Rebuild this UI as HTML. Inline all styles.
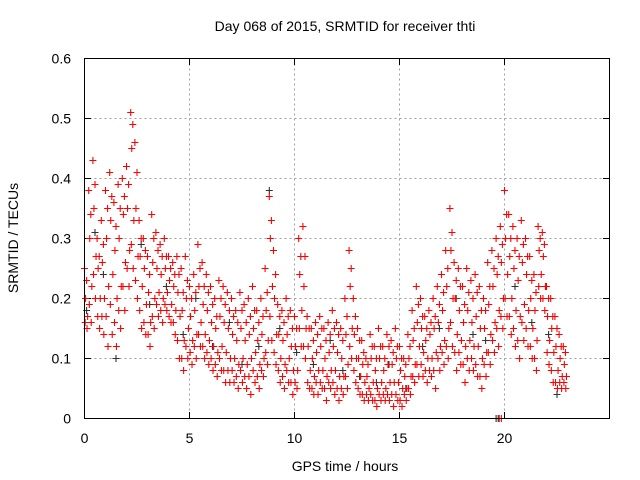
<!DOCTYPE html>
<html><head><meta charset="utf-8"><style>
body{margin:0;background:#fff;}
svg{display:block;font-family:"Liberation Sans",sans-serif;}
</style></head><body>
<svg id="chart" width="640" height="480">
<text x="345" y="31" font-size="14" text-anchor="middle">Day 068 of 2015, SRMTID for receiver thti</text>
<text x="345" y="471" font-size="14" text-anchor="middle">GPS time / hours</text>
<text transform="translate(18,238) rotate(-90)" font-size="14" text-anchor="middle">SRMTID / TECUs</text>
<g id="grid"></g>
<g id="ticks"></g>
<g id="black"></g>
<g id="red"></g>
<rect x="84.5" y="58.5" width="525" height="360" fill="none" stroke="#000"/>
</svg>
<script>
const xTicks=[0,5,10,15,20];
const yTicks=[0,0.1,0.2,0.3,0.4,0.5,0.6];
const yLabels=["0","0.1","0.2","0.3","0.4","0.5","0.6"];
const times=[0,0.2,0.4,0.6,0.8,1.0,1.2,1.4,1.6,1.8,2.0,2.2,2.4,2.6,2.8,3.0,3.2,3.4,3.6,3.8,4.0,4.2,4.4,4.6,4.8,5.0,5.2,5.4,5.6,5.8,6.0,6.2,6.4,6.6,6.8,7.0,7.2,7.4,7.6,7.8,8.0,8.2,8.4,8.6,8.8,9.0,9.2,9.4,9.6,9.8,10.0,10.2,10.4,10.6,10.8,11.0,11.2,11.4,11.6,11.8,12.0,12.2,12.4,12.6,12.8,13.0,13.2,13.4,13.6,13.8,14.0,14.2,14.4,14.6,14.8,15.0,15.2,15.4,15.6,15.8,16.0,16.2,16.4,16.6,16.8,17.0,17.2,17.4,17.6,17.8,18.0,18.2,18.4,18.6,18.8,19.0,19.2,19.4,19.6,19.8,20.0,20.2,20.4,20.6,20.8,21.0,21.2,21.4,21.6,21.8,22.0,22.2,22.4,22.6,22.8];
const redHi=[.25,.38,.43,.30,.33,.38,.41,.36,.39,.40,.42,.51,.46,.33,.30,.27,.34,.31,.29,.30,.27,.26,.27,.25,.27,.22,.24,.29,.26,.24,.22,.20,.23,.22,.21,.20,.18,.21,.19,.20,.22,.18,.20,.25,.37,.28,.19,.18,.20,.18,.17,.30,.32,.17,.15,.16,.17,.15,.16,.18,.16,.15,.20,.28,.20,.15,.13,.10,.14,.12,.15,.12,.14,.13,.15,.12,.10,.14,.18,.22,.20,.17,.18,.20,.22,.24,.28,.35,.26,.25,.22,.25,.23,.24,.22,.20,.26,.28,.30,.32,.38,.34,.32,.30,.33,.30,.27,.24,.32,.31,.22,.20,.17,.14,.12];
const redA=[.23,.34,.39,.27,.29,.35,.37,.32,.35,.37,.39,.49,.41,.30,.28,.24,.30,.28,.27,.27,.25,.24,.24,.21,.23,.20,.21,.25,.22,.21,.19,.17,.20,.19,.18,.17,.16,.18,.16,.17,.18,.16,.17,.21,.33,.24,.17,.16,.17,.15,.15,.27,.27,.15,.13,.14,.15,.13,.14,.15,.14,.13,.17,.25,.17,.13,.11,.09,.12,.10,.12,.10,.12,.11,.12,.10,.09,.12,.15,.19,.17,.15,.16,.17,.19,.21,.25,.31,.23,.22,.19,.21,.20,.21,.18,.18,.22,.25,.27,.29,.34,.30,.28,.27,.29,.27,.23,.21,.30,.29,.20,.17,.15,.12,.11];
const redMidHi=[.20,.30,.35,.25,.26,.30,.33,.28,.30,.34,.35,.45,.35,.27,.25,.21,.26,.25,.24,.25,.23,.22,.21,.18,.20,.17,.18,.22,.19,.18,.16,.15,.17,.16,.15,.14,.13,.15,.13,.14,.15,.13,.14,.18,.30,.20,.14,.13,.14,.12,.12,.24,.22,.12,.10,.11,.12,.10,.11,.12,.11,.10,.14,.22,.14,.10,.09,.07,.10,.08,.10,.08,.09,.09,.10,.08,.07,.10,.13,.16,.15,.13,.14,.15,.16,.18,.22,.28,.20,.18,.16,.18,.16,.17,.15,.15,.19,.22,.24,.26,.30,.27,.25,.23,.26,.24,.20,.18,.28,.27,.17,.15,.12,.10,.09];
const redMidLo=[.17,.22,.27,.20,.20,.22,.24,.20,.22,.26,.28,.33,.27,.22,.19,.16,.20,.21,.20,.21,.19,.18,.17,.13,.15,.13,.14,.16,.14,.13,.12,.11,.12,.11,.10,.10,.09,.10,.09,.10,.11,.09,.10,.13,.22,.14,.10,.09,.10,.08,.08,.18,.15,.08,.07,.08,.08,.07,.08,.08,.07,.07,.09,.15,.10,.07,.06,.05,.06,.05,.06,.05,.06,.06,.06,.05,.05,.07,.09,.12,.11,.10,.10,.11,.12,.13,.15,.20,.14,.13,.12,.13,.12,.12,.10,.11,.14,.16,.18,.20,.24,.20,.18,.17,.19,.18,.15,.13,.24,.22,.13,.11,.08,.07,.07];
const redB=[.16,.19,.24,.17,.17,.17,.19,.16,.18,.22,.25,.29,.23,.18,.16,.14,.17,.19,.18,.19,.17,.16,.13,.10,.12,.11,.12,.14,.12,.11,.10,.09,.10,.08,.08,.08,.07,.08,.07,.07,.08,.07,.08,.11,.17,.11,.08,.07,.08,.06,.06,.15,.12,.06,.05,.06,.06,.05,.06,.06,.05,.05,.07,.12,.08,.05,.04,.04,.04,.03,.04,.04,.04,.04,.04,.03,.04,.05,.07,.09,.09,.08,.08,.08,.10,.11,.12,.16,.11,.11,.09,.10,.10,.09,.07,.09,.11,.13,.15,.17,.20,.17,.15,.13,.16,.15,.12,.10,.22,.20,.11,.08,.06,.06,.06];
const redLo=[.15,.16,.20,.15,.14,.12,.14,.12,.15,.18,.22,.25,.20,.15,.14,.12,.15,.17,.16,.18,.16,.14,.10,.08,.10,.09,.10,.12,.10,.09,.08,.07,.08,.06,.06,.06,.05,.06,.05,.04,.06,.05,.07,.09,.13,.09,.06,.05,.06,.04,.05,.12,.10,.05,.04,.04,.05,.03,.05,.04,.03,.04,.05,.10,.06,.04,.03,.03,.03,.02,.03,.03,.03,.02,.03,.02,.03,.04,.06,.07,.07,.06,.07,.05,.08,.09,.10,.12,.08,.09,.06,.08,.08,.07,.05,.07,.09,.11,.12,.15,.17,.14,.12,.10,.13,.12,.10,.08,.20,.18,.09,.06,.05,.05,.05];
const redZeroT=[19.75,19.85];
const redZeroV=[0,0];
const blackT=[0.1,0.5,0.9,1.5,2.7,3.1,3.9,4.7,5.3,6.1,6.9,7.5,8.3,8.8,9.3,10.1,10.9,11.7,12.3,13.1,13.9,14.5,15.3,16.1,16.9,17.7,18.5,19.1,19.6,19.7,20.5,21.3,22.1,22.5];
const blackV=[.18,.31,.24,.10,.29,.19,.22,.14,.20,.12,.16,.09,.12,.38,.15,.11,.09,.13,.08,.07,.06,.09,.05,.12,.15,.20,.14,.13,0,0,.22,.16,.14,.04];
const X=v=>84.5+v*(525/25), Y=v=>418.5-v*600;
const ns="http://www.w3.org/2000/svg";
const mk=(tag,attrs,parent)=>{const e=document.createElementNS(ns,tag);for(const k in attrs)e.setAttribute(k,attrs[k]);parent.appendChild(e);return e;};
const grid=document.getElementById('grid'),ticks=document.getElementById('ticks');
xTicks.forEach(t=>{
  if(t>0){const l=mk('line',{x1:X(t),x2:X(t),y1:58.5,y2:418.5,stroke:'#a0a0a0','stroke-dasharray':'2,3'},grid);
  
  }
  mk('line',{x1:X(t),x2:X(t),y1:418.5,y2:412,stroke:'#000'},ticks);
  mk('line',{x1:X(t),x2:X(t),y1:58.5,y2:65,stroke:'#000'},ticks);
  const tx=mk('text',{x:X(t),y:443,'font-size':14,'text-anchor':'middle'},ticks);tx.textContent=t;
  
  
});
yTicks.forEach((t,i)=>{
  if(t>0&&t<0.6){const l=mk('line',{x1:84.5,x2:609.5,y1:Y(t),y2:Y(t),stroke:'#a0a0a0','stroke-dasharray':'2,3'},grid);
  
  }
  mk('line',{x1:84.5,x2:91,y1:Y(t),y2:Y(t),stroke:'#000'},ticks);
  mk('line',{x1:609.5,x2:603,y1:Y(t),y2:Y(t),stroke:'#000'},ticks);
  const tx=mk('text',{x:71,y:Y(t)+5,'font-size':14,'text-anchor':'end'},ticks);tx.textContent=yLabels[i];
  
  
});
function plus(g,t,v,color){
  const x=X(t),y=Y(v);
  const p=mk('path',{d:`M${x-3.5} ${y}H${x+3.5}M${x} ${y-3.5}V${y+3.5}`,stroke:color,'stroke-width':1.1,fill:'none'},g);
  
  
}
const bg=document.getElementById('black'),rg=document.getElementById('red');
blackT.forEach((t,i)=>plus(bg,t,blackV[i],'#333'));
const offs=[0,0.1,0.05,0.15,0.03,0.12];
[redHi,redA,redMidHi,redMidLo,redB,redLo].forEach((arr,k)=>times.forEach((t,i)=>plus(rg,t+offs[k],arr[i],'#f00')));
redZeroT.forEach((t,i)=>plus(rg,t,redZeroV[i],'#f00'));
</script>
</body></html>
